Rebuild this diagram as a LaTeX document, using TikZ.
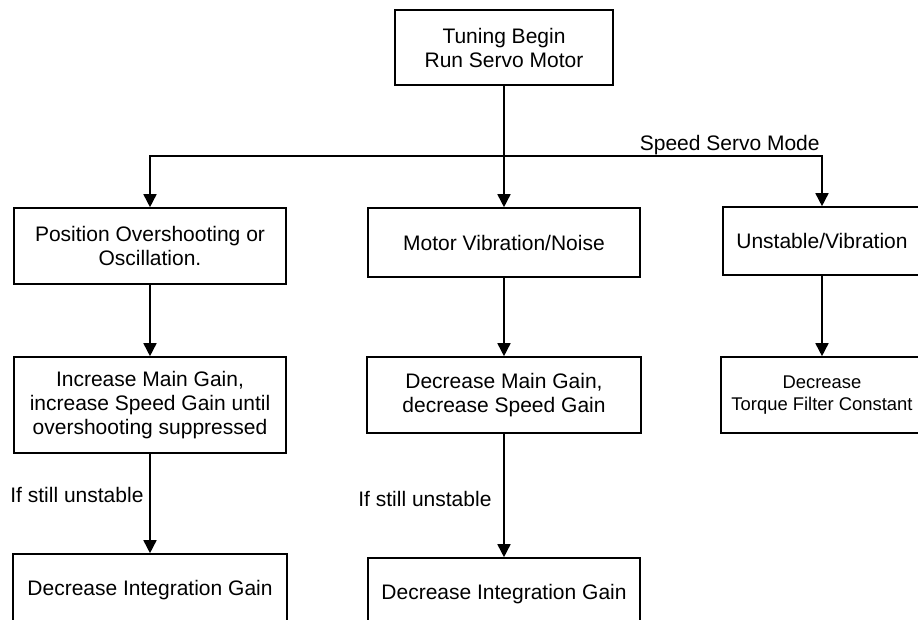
\documentclass[tikz,border=0pt]{standalone}
\usepackage{fontspec}
\setmainfont{Liberation Sans}
\usetikzlibrary{arrows.meta}

\begin{document}
\begin{tikzpicture}[x=0.5pt, y=-0.5pt,
  box/.style={draw, rectangle, line width=0.8pt, align=center, inner sep=0pt, font=\fontsize{10.5}{12}\selectfont},
  lbl/.style={inner sep=0pt, font=\fontsize{10.5}{12}\selectfont},
  arr/.style={-{Triangle[length=6.5pt, width=6.5pt]}, line width=0.8pt}]
\clip (0,0) rectangle (918,620);

% Start
\node[box, minimum width=109pt, minimum height=37.5pt] (start) at (504,47.5) {Tuning Begin\\Run Servo Motor};
\coordinate (split) at (504,156);

% First row: symptoms
\node[box, minimum width=136pt, minimum height=38pt] (overshoot) at (150,246) {Position Overshooting or\\Oscillation.};
\node[box, minimum width=136pt, minimum height=34.5pt] (noise) at (504,242.5) {Motor Vibration/Noise};
\node[box, minimum width=99pt, minimum height=34pt] (unstable) at (822,241) {Unstable/Vibration};

% Second row: actions
\node[box, minimum width=136pt, minimum height=48pt] (incgain) at (150,405) {Increase Main Gain,\\increase Speed Gain until\\overshooting suppressed};
\node[box, minimum width=137pt, minimum height=38pt] (decgain) at (504,395) {Decrease Main Gain,\\decrease Speed Gain};
\node[box, minimum width=101pt, minimum height=38pt, font=\fontsize{9.2}{10.8}\selectfont] (torque) at (822,395) {Decrease\\Torque Filter Constant};

% Third row
\node[box, minimum width=137pt, minimum height=36pt] (integA) at (150,590) {Decrease Integration Gain};
\node[box, minimum width=136pt, minimum height=36pt] (integB) at (504,594) {Decrease Integration Gain};

% Arrows
\draw[line width=0.8pt] (start) -- (split);
\draw[arr] (split) -| (overshoot);
\draw[arr] (split) -- (noise);
\draw[arr] (split) -| (unstable);
\draw[arr] (overshoot) -- (incgain);
\draw[arr] (noise) -- (decgain);
\draw[arr] (unstable) -- (torque);
\draw[arr] (incgain) -- (integA);
\draw[arr] (decgain) -- (integB);

% Labels
\node[lbl, anchor=base east] (mode) at (820,151) {Speed Servo Mode};
\node[lbl, anchor=base west] (stillA) at (10,503) {If still unstable};
\node[lbl, anchor=base west] (stillB) at (358,507) {If still unstable};
\end{tikzpicture}
\end{document}
